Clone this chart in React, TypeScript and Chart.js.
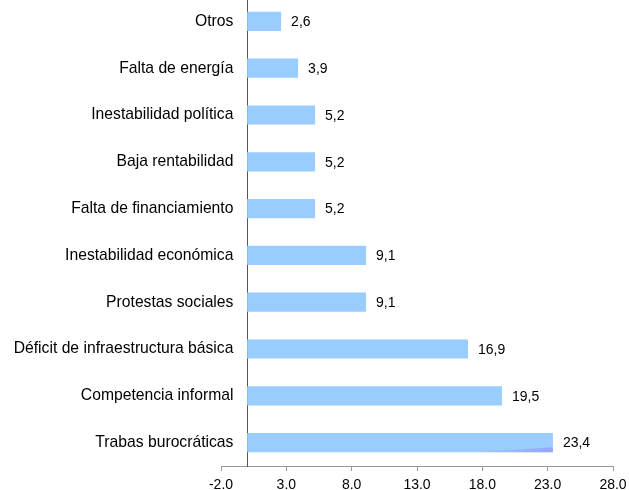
import React, { useEffect, useRef } from "react";
import { Chart, registerables } from "chart.js";

Chart.register(...registerables);

const categories: string[] = [
  "Otros",
  "Falta de energía",
  "Inestabilidad política",
  "Baja rentabilidad",
  "Falta de financiamiento",
  "Inestabilidad económica",
  "Protestas sociales",
  "Déficit de infraestructura básica",
  "Competencia informal",
  "Trabas burocráticas",
];

const values: number[] = [2.6, 3.9, 5.2, 5.2, 5.2, 9.1, 9.1, 16.9, 19.5, 23.4];

const xMin = -2;
const xMax = 28;
const xStep = 5;
// x value at which the category labels are right-aligned (just left of the 0 axis)
const labelAnchor = -1.05;

const FONT = "'Liberation Sans', Arial, sans-serif";

const valueLabelPlugin = {
  id: "valueLabels",
  afterDatasetsDraw(chart: any) {
    const ctx = chart.ctx;
    const meta = chart.getDatasetMeta(0);
    ctx.save();
    // subtle purple shading wedge seen on the longest bar
    const last: any = meta.data[meta.data.length - 1];
    if (last) {
      const bottom = last.y + last.height / 2;
      const x1 = last.x;
      const x0 = last.base + (last.x - last.base) * 0.73;
      const g = ctx.createLinearGradient(x0, 0, x1, 0);
      g.addColorStop(0, "rgba(150,140,255,0)");
      g.addColorStop(1, "rgba(150,140,255,0.6)");
      ctx.fillStyle = g;
      ctx.beginPath();
      ctx.moveTo(x0, bottom);
      ctx.lineTo(x1, bottom);
      ctx.lineTo(x1, bottom - 5);
      ctx.closePath();
      ctx.fill();
    }
    ctx.font = `14px ${FONT}`;
    ctx.fillStyle = "#000";
    ctx.textAlign = "left";
    ctx.textBaseline = "middle";
    meta.data.forEach((bar: any, i: number) => {
      const txt = values[i].toFixed(1).replace(".", ",");
      ctx.fillText(txt, bar.x + 10, bar.y + 1);
    });
    ctx.restore();
  },
};

export default function App() {
  const ref = useRef<HTMLCanvasElement | null>(null);

  useEffect(() => {
    if (!ref.current) return;
    const chart = new Chart(ref.current, {
      type: "bar",
      data: {
        labels: categories,
        datasets: [
          {
            data: values,
            backgroundColor: "#99CCFF",
            borderWidth: 0,
            barPercentage: 0.41,
            categoryPercentage: 1,
            yAxisID: "y",
          },
        ],
      },
      options: {
        indexAxis: "y",
        responsive: false,
        animation: false,
        devicePixelRatio: 1,
        layout: { padding: { left: 221, right: 16, top: 0, bottom: 0 } },
        plugins: {
          legend: { display: false },
          tooltip: { enabled: false },
        },
        scales: {
          x: {
            type: "linear",
            position: "bottom",
            min: xMin,
            max: xMax,
            ticks: {
              stepSize: xStep,
              color: "#000",
              font: { family: FONT, size: 14 },
              padding: 6,
              maxRotation: 0,
              callback: (v: any) => Number(v).toFixed(1),
            },
            grid: {
              display: true,
              drawOnChartArea: false,
              drawTicks: true,
              tickLength: 5,
              color: "#999",
            },
            border: { display: true, color: "#999", width: 1 },
            afterFit: (s: any) => {
              s.height = 24;
              s.paddingLeft = 0;
              s.paddingRight = 0;
              s.paddingTop = 0;
              s.paddingBottom = 0;
            },
          },
          y: {
            type: "category",
            axis: "y",
            offset: true,
            position: { x: 0 } as any,
            ticks: { display: false },
            grid: { display: false, drawTicks: false },
            border: { display: true, color: "#555", width: 1 },
            afterFit: (s: any) => {
              s.paddingTop = 0;
              s.paddingBottom = 0;
            },
          },
          yLabels: {
            type: "category",
            axis: "y",
            labels: categories,
            offset: true,
            position: { x: labelAnchor } as any,
            ticks: {
              color: "#000",
              font: { family: FONT, size: 15.7 },
              padding: 0,
              autoSkip: false,
            },
            grid: { display: false, drawTicks: false },
            border: { display: false },
            afterFit: (s: any) => {
              s.paddingTop = 0;
              s.paddingBottom = 0;
            },
          },
        } as any,
      },
      plugins: [valueLabelPlugin],
    });
    return () => chart.destroy();
  }, []);

  return (
    <div style={{ position: "absolute", left: 0, top: -2, width: 629, height: 492 }}>
      <canvas ref={ref} width={629} height={492} style={{ width: 629, height: 492 }} />
    </div>
  );
}
